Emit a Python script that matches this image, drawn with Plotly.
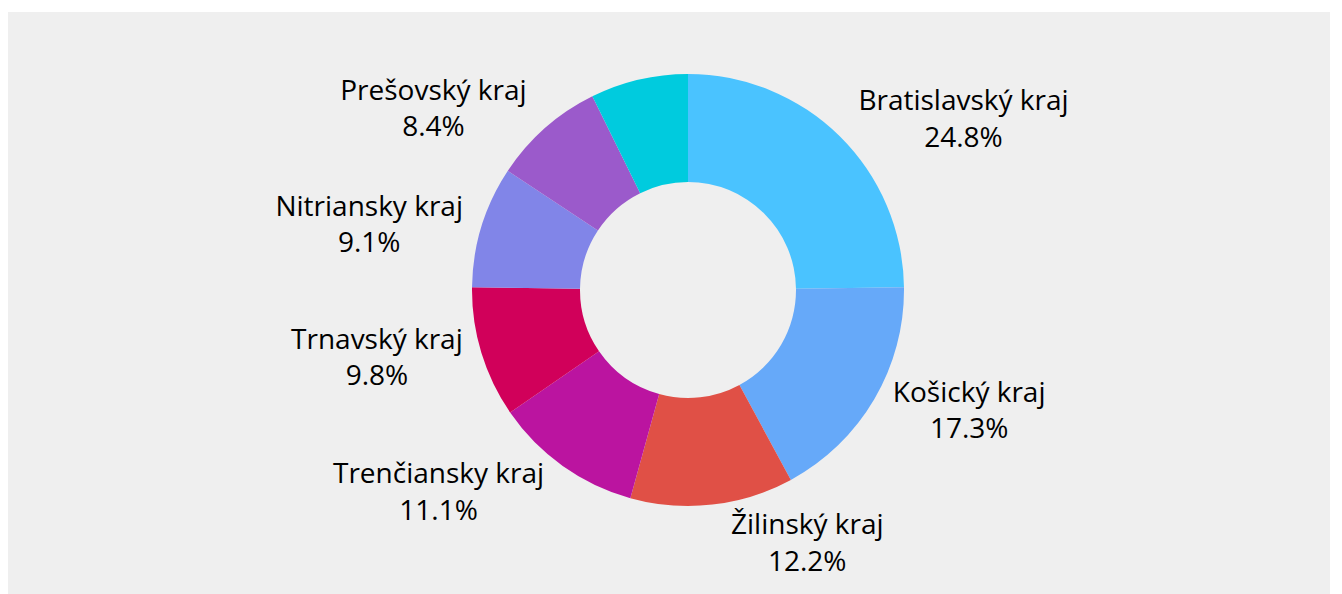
import plotly.graph_objects as go

labels = ["Bratislavský kraj", "Košický kraj", "Žilinský kraj", "Trenčiansky kraj",
          "Trnavský kraj", "Nitriansky kraj", "Prešovský kraj", "Banskobystrický kraj"]
values = [24.8, 17.3, 12.2, 11.1, 9.8, 9.1, 8.4, 7.3]
show_label = [True, True, True, True, True, True, True, False]
colors = ["#4AC3FF", "#66A9F9", "#E05046", "#BB14A0", "#D1005A", "#8185E8", "#9B5ACB", "#00CBDE"]

texts = [f"{l}<br>{v:.1f}%" if s else "" for l, v, s in zip(labels, values, show_label)]

W, H = 1342, 594
cx, cy, R = 680, 282, 216

fig = go.Figure(go.Pie(
    labels=labels, values=values, text=texts, texttemplate="%{text}",
    textposition="outside", sort=False, direction="clockwise", rotation=0,
    hole=0.5, marker=dict(colors=colors, line=dict(width=0)),
    textfont=dict(family="Open Sans", size=28, color="#000000"),
    domain=dict(x=[(cx - R) / W, (cx + R) / W], y=[1 - (cy + R) / H, 1 - (cy - R) / H]),
    showlegend=False, hoverinfo="label+percent",
))
fig.add_shape(type="rect", xref="paper", yref="paper", x0=0, x1=1322 / W,
              y0=0, y1=1 - 4 / H, fillcolor="#EFEFEF", line=dict(width=0), layer="below")
fig.update_layout(width=W, height=H, margin=dict(l=0, r=0, t=0, b=0),
                  paper_bgcolor="white", plot_bgcolor="white")
fig.write_html("out.html")
